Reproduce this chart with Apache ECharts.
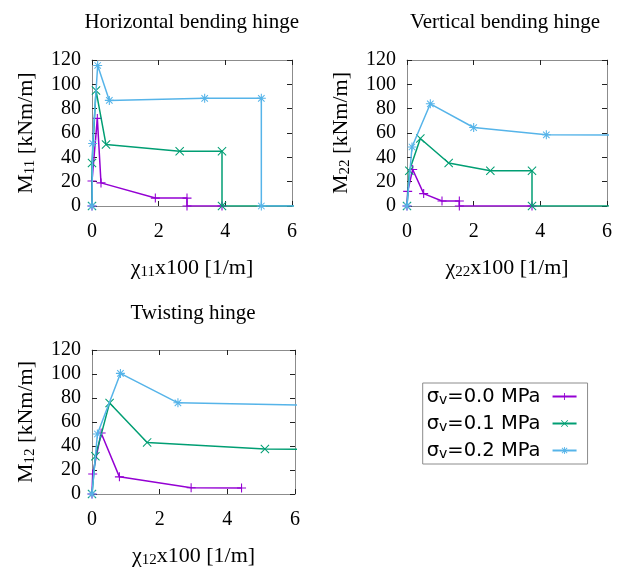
<!DOCTYPE html>
<html>
<head>
<meta charset="utf-8">
<script src="https://cdn.jsdelivr.net/npm/echarts@6/dist/echarts.min.js"></script>
<style>
  html, body { margin: 0; padding: 0; background: #fff; }
  #chart { width: 623px; height: 569px; }
</style>
</head>
<body>
<div id="chart"></div>
<script>
// == Data ==================================================================

const seriesNames = ['σv=0.0 MPa', 'σv=0.1 MPa', 'σv=0.2 MPa']
const panelTitles = ['Horizontal bending hinge', 'Vertical bending hinge', 'Twisting hinge']
const panelSubs = ['11', '22', '12']
const xTicks = [0, 2, 4, 6]
const yTicks = [0, 20, 40, 60, 80, 100, 120]

// Horizontal bending hinge (M11 vs chi11)
const horX0 = [0, 0, 0.16, 0.27, 1.9, 2.85, 2.85, 3.9]
const horY0 = [0, 20.6, 72, 19, 6.5, 6.5, 0, 0]
const horX1 = [0, 0, 0.12, 0.42, 2.63, 3.9, 3.9, 7]
const horY1 = [0, 35.4, 95, 50.5, 45, 45, 0, 0]
const horX2 = [0, 0.02, 0.17, 0.52, 3.38, 5.08, 5.08, 7]
const horY2 = [0, 51.4, 115.5, 86.8, 88.5, 88.5, 0, 0]

// Vertical bending hinge (M22 vs chi22)
const verX0 = [0, 0.02, 0.17, 0.5, 1.05, 1.57, 1.57, 3.75]
const verY0 = [0, 12, 30, 10.2, 4.1, 4.1, 0, 0]
const verX1 = [0, 0.07, 0.4, 1.25, 2.5, 3.75, 3.75, 7]
const verY1 = [0, 29, 55.5, 35.3, 29, 29, 0, 0]
const verX2 = [0, 0.15, 0.7, 2.0, 4.18, 7.5]
const verY2 = [0, 48.5, 84, 64.5, 58.5, 58.2]

// Twisting hinge (M12 vs chi12)
const twiX0 = [0, 0.02, 0.27, 0.81, 2.93, 4.42]
const twiY0 = [0, 16.6, 50.8, 14.3, 5.2, 5]
const twiX1 = [0, 0.1, 0.52, 1.63, 5.11, 7.5]
const twiY1 = [0, 31.4, 75.9, 43, 37.5, 37.2]
const twiX2 = [0, 0.16, 0.84, 2.54, 8]
const twiY2 = [0, 50, 100.5, 76, 73]

// == Styles ================================================================

const colors = ['#9400d3', '#009e73', '#56b4e9']
const serif = 'Liberation Serif'
const plusPath = 'M-0.6,-5H0.6V-0.6H5V0.6H0.6V5H-0.6V0.6H-5V-0.6H-0.6Z'
const crossPath = 'M-5,-4.2L-4.2,-5L5,4.2L4.2,5ZM4.2,-5L5,-4.2L-4.2,5L-5,4.2Z'
const starPath = plusPath + 'M-4,-3.2L-3.2,-4L4,3.2L3.2,4ZM3.2,-4L4,-3.2L-3.2,4L-4,3.2Z'
const symbols = ['path://' + plusPath, 'path://' + crossPath, 'path://' + starPath]

const grids = [
  {left: 92, top: 60, width: 200, height: 146},
  {left: 407, top: 60, width: 200, height: 146},
  {left: 92, top: 350, width: 203, height: 146}
]

const panels = [
  [[horX0, horY0], [horX1, horY1], [horX2, horY2]],
  [[verX0, verY0], [verX1, verY1], [verX2, verY2]],
  [[twiX0, twiY0], [twiX1, twiY1], [twiX2, twiY2]]
]

function zip (xs, ys) {
  return xs.map((x, i) => [x, ys[i]])
}

function nameRich () {
  return {
    t: {fontFamily: serif, fontSize: 22, color: '#000'},
    s: {fontFamily: serif, fontSize: 15, color: '#000', padding: [8, 0, 0, 0]}
  }
}

const frameLine = {show: true, onZero: false, lineStyle: {color: '#8c8c8c', width: 1}}
const tickStyle = {show: true, inside: true, length: 5, lineStyle: {color: '#222'}}

const xAxes = []
const yAxes = []
const series = []

grids.forEach((g, i) => {
  const sub = panelSubs[i]
  xAxes.push({
    gridIndex: i, type: 'value', position: 'bottom', z: 1,
    min: xTicks[0], max: xTicks[xTicks.length - 1], interval: xTicks[1] - xTicks[0],
    axisLine: frameLine, axisTick: tickStyle, splitLine: {show: false},
    axisLabel: {fontFamily: serif, fontSize: 20, color: '#000', margin: 16},
    name: '{t|χ}{s|' + sub + '}{t|x100 [1/m]}',
    nameLocation: 'middle', nameGap: 51,
    nameTextStyle: {rich: nameRich()}
  })
  xAxes.push({
    gridIndex: i, type: 'value', position: 'top', z: 1,
    min: xTicks[0], max: xTicks[xTicks.length - 1], interval: xTicks[1] - xTicks[0],
    axisLine: frameLine, axisTick: tickStyle, splitLine: {show: false},
    axisLabel: {show: false}
  })
  yAxes.push({
    gridIndex: i, type: 'value', position: 'left', z: 1,
    min: yTicks[0], max: yTicks[yTicks.length - 1], interval: yTicks[1] - yTicks[0],
    axisLine: frameLine, axisTick: tickStyle, splitLine: {show: false},
    axisLabel: {fontFamily: serif, fontSize: 20, color: '#000', margin: 11},
    name: '{t|M}{s|' + sub + '}{t| [kNm/m]}',
    nameLocation: 'middle', nameGap: 54,
    nameTextStyle: {rich: nameRich()}
  })
  yAxes.push({
    gridIndex: i, type: 'value', position: 'right', z: 1,
    min: yTicks[0], max: yTicks[yTicks.length - 1], interval: yTicks[1] - yTicks[0],
    axisLine: frameLine, axisTick: tickStyle, splitLine: {show: false},
    axisLabel: {show: false}
  })

  panels[i].forEach((pair, k) => {
    series.push({
      name: seriesNames[k],
      type: 'line',
      xAxisIndex: i * 2,
      yAxisIndex: i * 2,
      data: zip(pair[0], pair[1]),
      symbol: symbols[k],
      symbolSize: 9,
      showAllSymbol: true,
      clip: true,
      z: 10 + k,
      animation: false,
      color: colors[k],
      lineStyle: {width: 1.5, color: colors[k]},
      itemStyle: {color: colors[k]}
    })
  })
})

const titleCenters = [[191.7, 22], [505, 22], [193, 313]]

const chart = echarts.init(document.getElementById('chart'))
chart.setOption({
  animation: false,
  grid: grids,
  xAxis: xAxes,
  yAxis: yAxes,
  series: series,
  legend: {
    data: seriesNames,
    orient: 'vertical',
    left: 422.7,
    top: 383,
    align: 'right',
    itemWidth: 24,
    itemHeight: 9,
    itemGap: 6,
    padding: [3, 10, 3, 4],
    borderColor: '#8c8c8c',
    borderWidth: 1,
    borderRadius: 0,
    formatter: function (name) {
      return '{a|σ}{s|v}{a|' + name.slice(2) + '}'
    },
    textStyle: {
      padding: [0, 7, 0, 0],
      rich: {
        a: {fontFamily: 'DejaVu Sans', fontSize: 19.5, color: '#000', lineHeight: 21},
        s: {fontFamily: 'DejaVu Sans', fontSize: 14, color: '#000', padding: [7, 0, 0, 0], lineHeight: 21}
      }
    }
  },
  graphic: panelTitles.map((t, i) => ({
    type: 'text',
    x: titleCenters[i][0],
    y: titleCenters[i][1],
    style: {
      text: t, fontFamily: serif, fontSize: 21, fill: '#000',
      textAlign: 'center', textVerticalAlign: 'middle'
    }
  }))
})
</script>
</body>
</html>
